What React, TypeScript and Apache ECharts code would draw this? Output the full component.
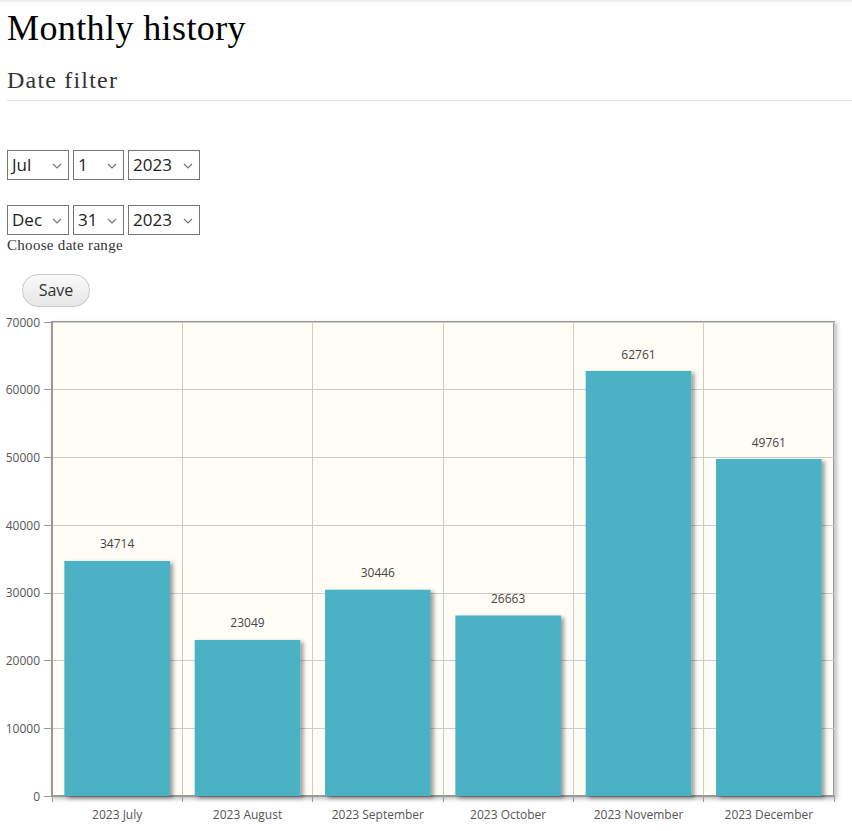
import React, { useEffect, useRef } from "react";
import * as echarts from "echarts";

const categories = ["2023 July", "2023 August", "2023 September", "2023 October", "2023 November", "2023 December"];
const totals = [34714, 23049, 30446, 26663, 62761, 49761];
const yTicks = { min: 0, max: 70000, interval: 10000 };

const serif = '"Liberation Serif", "DejaVu Serif", serif';
const sans = '"Open Sans", "Noto Sans", sans-serif';

function Chevron() {
  return (
    <svg width="10" height="6" viewBox="0 0 10 6" style={{ position: "absolute", right: 6, top: 12 }}>
      <polyline points="1,1 5,5 9,1" fill="none" stroke="#777" strokeWidth="1.2" />
    </svg>
  );
}

function FakeSelect(props: { x: number; y: number; w: number; text: string }) {
  return (
    <div
      style={{
        position: "absolute",
        left: props.x,
        top: props.y,
        width: props.w,
        height: 28,
        border: "1px solid #767676",
        background: "#fff",
        fontFamily: sans,
        fontSize: 17,
        color: "#222",
        lineHeight: "28px",
        paddingLeft: 4,
        boxSizing: "content-box",
      }}
    >
      {props.text}
      <Chevron />
    </div>
  );
}

export default function App() {
  const ref = useRef<HTMLDivElement>(null);
  useEffect(() => {
    if (!ref.current) return;
    const chart = echarts.init(ref.current, null, { renderer: "svg" });
    chart.setOption({
      animation: false,
      grid: {
        left: 52,
        right: 18,
        top: 12,
        bottom: 35,
        show: true,
        backgroundColor: "#fffdf6",
        borderColor: "#999",
        borderWidth: 2,
        shadowColor: "rgba(0,0,0,0.25)",
        shadowBlur: 4,
        shadowOffsetX: 2,
        shadowOffsetY: 2,
      },
      xAxis: {
        type: "category",
        data: categories,
        axisLine: { show: true, lineStyle: { color: "#999", width: 2 } },
        axisTick: { show: true, length: 6, lineStyle: { color: "#999" } },
        splitLine: { show: true, lineStyle: { color: "#cccccc", width: 1 } },
        axisLabel: { color: "#555", fontFamily: sans, fontSize: 12, margin: 12 },
      },
      yAxis: {
        type: "value",
        min: yTicks.min,
        max: yTicks.max,
        interval: yTicks.interval,
        axisLine: { show: true, lineStyle: { color: "#999", width: 2 } },
        axisTick: { show: true, length: 8, lineStyle: { color: "#999" } },
        splitLine: { show: true, lineStyle: { color: "#cccccc", width: 1 } },
        axisLabel: {
          color: "#555",
          fontFamily: sans,
          fontSize: 12,
          margin: 12,
          formatter: (v: number) => String(v),
        },
      },
      series: [
        {
          type: "bar",
          data: totals,
          barCategoryGap: "19%",
          itemStyle: {
            color: "#4bb2c5",
            shadowColor: "rgba(0,0,0,0.4)",
            shadowBlur: 4,
            shadowOffsetX: 3,
            shadowOffsetY: 2,
          },
          label: {
            show: true,
            position: "top",
            distance: 11,
            color: "#444",
            fontFamily: sans,
            fontSize: 12,
          },
        },
      ],
    });
    return () => chart.dispose();
  }, []);

  return (
    <div style={{ position: "absolute", left: 0, top: 0, width: 852, height: 831, background: "#fff", overflow: "hidden" }}>
      <div style={{ position: "absolute", left: 0, top: 0, width: 852, height: 2, background: "#eee" }} />
      <div style={{ position: "absolute", left: 7, top: 6, fontFamily: serif, fontSize: 36, letterSpacing: 0.4, color: "#000", lineHeight: "44px", whiteSpace: "nowrap" }}>
        Monthly history
      </div>
      <div style={{ position: "absolute", left: 7, top: 64, fontFamily: serif, fontSize: 24, letterSpacing: 1.2, color: "#333", lineHeight: "32px", whiteSpace: "nowrap" }}>
        Date filter
      </div>
      <div style={{ position: "absolute", left: 7, top: 100, width: 845, height: 1, background: "#e4e4e4" }} />
      <FakeSelect x={7} y={150} w={56} text="Jul" />
      <FakeSelect x={73} y={150} w={45} text="1" />
      <FakeSelect x={128} y={150} w={66} text="2023" />
      <FakeSelect x={7} y={205} w={56} text="Dec" />
      <FakeSelect x={73} y={205} w={45} text="31" />
      <FakeSelect x={128} y={205} w={66} text="2023" />
      <div style={{ position: "absolute", left: 7, top: 236, fontFamily: serif, fontSize: 15, letterSpacing: 0.3, color: "#333", lineHeight: "18px", whiteSpace: "nowrap" }}>
        Choose date range
      </div>
      <div
        style={{
          position: "absolute",
          left: 22,
          top: 274,
          width: 66,
          height: 31,
          border: "1px solid #c8c8c8",
          borderRadius: 16,
          background: "linear-gradient(#fafafa, #e6e6e6)",
          fontFamily: sans,
          fontSize: 16,
          color: "#333",
          lineHeight: "31px",
          textAlign: "center",
        }}
      >
        Save
      </div>
      <div ref={ref} style={{ position: "absolute", left: 0, top: 310, width: 852, height: 521 }} />
    </div>
  );
}
